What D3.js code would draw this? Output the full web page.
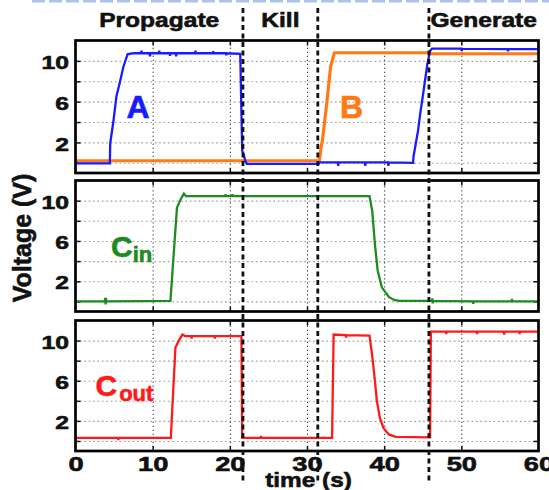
<!DOCTYPE html>
<html><head><meta charset="utf-8">
<script src="https://cdn.jsdelivr.net/npm/d3@7"></script>
<style>
html,body{margin:0;padding:0;background:#fff;}
svg{display:block;}
text{font-family:"Liberation Sans",Arial,Helvetica,sans-serif;font-weight:bold;}
</style></head><body>
<svg id="chart" width="549" height="490"></svg>
<script>
// ---- axis values ----
const timeTicks = [0, 10, 20, 30, 40, 50, 60];
const gridTimes = [10, 20, 30, 40, 50];
const voltTicks = [2, 6, 10];
const gridVolts = [0, 2, 4, 6, 8, 10];

// ---- operating phases (s) ----
const phaseBounds = [0, 21.7, 31.4, 45.8, 60];
const phaseNames = ["Propagate", "Kill", "", "Generate"];
const eventTimes = [21.7, 31.4, 45.8];

// ---- measured traces: [time (s), voltage (V)] ----
const inputA = [
  [0, -0.05], [4.45, -0.05], [4.5, 1.9], [4.9, 4.0], [5.3, 6.5], [5.75, 7.9], [6.2, 9.4],
  [6.75, 10.65], [7.5, 10.75], [8.5, 10.75], [8.55, 11.0], [8.6, 10.75], [9.6, 10.75], [9.65, 10.45],
  [9.7, 10.75], [10.8, 10.75], [10.85, 11.0], [10.9, 10.75], [12.2, 10.75], [12.25, 10.5], [12.3, 10.75],
  [13.0, 10.75], [13.05, 10.45], [13.1, 10.75], [15.5, 10.75], [15.55, 11.0], [15.6, 10.75],
  [17.8, 10.75], [17.85, 10.95], [17.9, 10.75], [19.5, 10.75], [19.55, 10.55], [19.6, 10.75],
  [21.35, 10.7], [21.5, 5.0], [21.6, 1.2], [21.8, 0.8], [22.0, 0.2], [22.2, -0.1], [31.5, -0.1],
  [31.6, 0.05], [34.0, 0.05], [34.05, -0.3], [34.1, 0.05], [37.5, 0.05], [37.55, -0.3], [37.6, 0.05],
  [40.5, 0.05], [40.55, -0.3], [40.6, 0.05], [43.75, 0.0], [43.8, 0.6], [44.1, 1.9], [44.4, 3.2],
  [44.65, 4.7], [45.0, 6.5], [45.3, 8.1], [45.6, 9.7], [45.95, 11.0], [46.2, 11.2], [50.0, 11.2],
  [50.05, 10.95], [50.1, 11.2], [56.0, 11.15], [56.05, 10.95], [56.1, 11.15], [60, 11.15]
];
const inputB = [
  [0, 0.2], [31.6, 0.2], [31.8, 1.4], [32.0, 2.2], [32.6, 6.1], [33.05, 9.4], [33.55, 10.8],
  [45.8, 10.8], [46.0, 10.7], [60, 10.7]
];
const carryIn = [
  [0, 0.0], [3.8, 0.0], [3.85, 0.35], [3.9, -0.3], [3.95, 0.35], [4.0, 0.0], [12.3, 0.05],
  [13.15, 9.3], [13.6, 10.1], [14.05, 10.7], [14.3, 10.45], [19.4, 10.45], [19.45, 10.65],
  [19.5, 10.45], [20.3, 10.45], [20.35, 10.65], [20.4, 10.45], [38.1, 10.45], [38.45, 9.0],
  [38.8, 5.7], [39.15, 3.1], [39.7, 1.4], [40.6, 0.45], [41.3, 0.15], [42.0, 0.05], [46.2, 0.05],
  [46.25, 0.3], [46.3, -0.2], [46.35, 0.05], [51.5, 0.0], [51.55, -0.25], [51.6, 0.0],
  [56.5, 0.0], [56.55, 0.25], [56.6, 0.0], [60, 0.0]
];
const carryOut = [
  [0, 0.3], [5.5, 0.3], [5.55, 0.1], [5.6, 0.3], [12.35, 0.3], [12.95, 9.3], [13.4, 10.0],
  [13.85, 10.6], [14.2, 10.45], [15.0, 10.45], [15.05, 10.2], [15.1, 10.45], [18.0, 10.45],
  [18.05, 10.2], [18.1, 10.45], [21.5, 10.45], [21.6, 0.3], [24.0, 0.3], [24.05, 0.5], [24.1, 0.3],
  [33.25, 0.3], [33.45, 10.6], [35.0, 10.55], [35.05, 10.3], [35.1, 10.55], [38.1, 10.5],
  [38.45, 8.5], [38.8, 6.0], [39.05, 4.0], [39.45, 2.3], [39.9, 1.3], [40.6, 0.65], [41.5, 0.4],
  [45.95, 0.35], [46.05, 10.9], [48.0, 10.9], [48.05, 10.65], [48.1, 10.9], [52.0, 10.9],
  [52.05, 10.65], [52.1, 10.9], [55.5, 10.9], [55.55, 10.6], [55.6, 10.9], [57.5, 10.9],
  [57.55, 10.65], [57.6, 10.9], [60, 10.9]
];

// ---- layout ----
const svg = d3.select("#chart");
const x = d3.scaleLinear().domain([0, 60]).range([75.5, 538.5]);
const left = x(0), right = x(60), width = right - left;
const ink = "#111";

const panels = [
  { top: 40.5, bottom: 173,
    traces: [{ data: inputB, color: "#ff7a14", w: 3.2 }, { data: inputA, color: "#1a1aff", w: 2.3 }],
    labels: [{ main: "A", x: 138, y: 118, color: "#1a1aff", anchor: "middle" },
             { main: "B", x: 351.5, y: 118, color: "#ff7a14", anchor: "middle" }] },
  { top: 180.5, bottom: 311.5,
    traces: [{ data: carryIn, color: "#1f8a1f", w: 2.3 }],
    labels: [{ main: "C", sub: "in", x: 111, y: 256.5, color: "#1f8a1f", anchor: "start" }] },
  { top: 320.5, bottom: 451,
    traces: [{ data: carryOut, color: "#ff1a1a", w: 2.3 }],
    labels: [{ main: "C", sub: "out", x: 95.5, y: 395.5, color: "#ff1a1a", anchor: "start", subDx: 2 }] }
];

// heavier glyph outline shared by all labels
const heavy = (sel, c) => sel.attr("stroke", c).attr("stroke-width", 0.6).attr("paint-order", "stroke");

// faint dashed rule along the top edge
svg.append("line")
  .attr("x1", 32).attr("x2", 549).attr("y1", 1.2).attr("y2", 1.2)
  .attr("stroke", "#a9c3ea").attr("stroke-width", 2.6).attr("stroke-dasharray", "13,4");

panels.forEach((p, i) => {
  const y = d3.scaleLinear().domain([-1, 12]).range([p.bottom, p.top]);
  const g = svg.append("g");
  const h = p.bottom - p.top;

  // horizontal grid (light dotted)
  g.append("g").attr("transform", `translate(${left},0)`)
    .call(d3.axisLeft(y).tickValues(gridVolts).tickSize(-width).tickFormat(""))
    .call(a => a.select(".domain").remove())
    .call(a => a.selectAll("line").attr("stroke", "#9a9a9a").attr("stroke-width", 1.1)
      .attr("stroke-dasharray", "1.6,2.8"));

  // vertical grid (darker dotted)
  g.append("g").attr("transform", `translate(0,${p.bottom})`)
    .call(d3.axisBottom(x).tickValues(gridTimes).tickSize(-h).tickFormat(""))
    .call(a => a.select(".domain").remove())
    .call(a => a.selectAll("line").attr("stroke", "#333").attr("stroke-width", 1)
      .attr("stroke-dasharray", "1.3,2.7"));

  // inward tick marks on all four sides
  const tk = 5;
  [[d3.axisLeft(y).tickValues(gridVolts), `translate(${left},0)`],
   [d3.axisRight(y).tickValues(gridVolts), `translate(${right},0)`],
   [d3.axisTop(x).tickValues(gridTimes), `translate(0,${p.top})`],
   [d3.axisBottom(x).tickValues(gridTimes), `translate(0,${p.bottom})`]].forEach(([ax, tr]) => {
    g.append("g").attr("transform", tr)
      .call(ax.tickSize(-tk).tickFormat(""))
      .call(a => a.select(".domain").remove())
      .call(a => a.selectAll("line").attr("stroke", ink).attr("stroke-width", 1.5));
  });

  // traces
  const clipId = "clip" + i;
  svg.append("clipPath").attr("id", clipId)
    .append("rect").attr("x", left).attr("y", p.top).attr("width", width).attr("height", h);
  const line = d3.line().x(d => x(d[0])).y(d => y(d[1]));
  const tg = g.append("g").attr("clip-path", `url(#${clipId})`);
  p.traces.forEach(t => {
    tg.append("path").datum(t.data).attr("d", line)
      .attr("fill", "none").attr("stroke", t.color).attr("stroke-width", t.w)
      .attr("stroke-linejoin", "miter");
  });

  // frame
  g.append("rect").attr("x", left).attr("y", p.top).attr("width", width).attr("height", h)
    .attr("fill", "none").attr("stroke", "#000").attr("stroke-width", 2.7);

  // voltage tick labels
  g.append("g").attr("transform", `translate(${left},0)`)
    .call(d3.axisLeft(y).tickValues(voltTicks).tickSize(0).tickPadding(5))
    .call(a => a.select(".domain").remove())
    .call(a => heavy(a.selectAll("text").attr("font-size", 19).attr("fill", ink)
      .attr("font-family", "Liberation Sans, Arial, sans-serif").attr("font-weight", "bold")
      .attr("dy", "0.4em").attr("transform", "scale(1.3,1)"), ink));

  // trace names
  p.labels.forEach(l => {
    const t = g.append("text").attr("x", l.x).attr("y", l.y).attr("fill", l.color)
      .attr("text-anchor", l.anchor).attr("font-size", l.sub ? 30 : 32).text(l.main);
    heavy(t, l.color);
    if (l.sub) {
      t.append("tspan").attr("font-size", 22).attr("dy", 5).attr("dx", l.subDx || 0).text(l.sub);
    }
  });

  // time tick labels on the last panel
  if (i === panels.length - 1) {
    g.append("g").attr("transform", `translate(0,${p.bottom})`)
      .call(d3.axisBottom(x).tickValues(timeTicks).tickSize(0).tickPadding(5.5))
      .call(a => a.select(".domain").remove())
      .call(a => heavy(a.selectAll("text").attr("font-size", 21).attr("fill", ink)
        .attr("font-family", "Liberation Sans, Arial, sans-serif").attr("font-weight", "bold")
        .attr("transform", "scale(1.3,1)"), ink));
  }
});

// phase names above the top panel
phaseNames.forEach((name, i) => {
  if (!name) return;
  const cx = (x(phaseBounds[i]) + x(phaseBounds[i + 1])) / 2;
  heavy(svg.append("text").attr("transform", `translate(${cx},26.7) scale(1.17,1)`)
    .attr("text-anchor", "middle").attr("font-size", 21).attr("fill", ink).text(name), ink);
});

// phase boundary markers spanning all panels
svg.append("g").selectAll("line").data(eventTimes).join("line")
  .attr("x1", d => x(d)).attr("x2", d => x(d)).attr("y1", 8).attr("y2", 484)
  .attr("stroke", ink).attr("stroke-width", 2.8).attr("stroke-dasharray", "5,3.5");

// axis titles
heavy(svg.append("text").attr("transform", "translate(31,238) rotate(-90)")
  .attr("text-anchor", "middle").attr("font-size", 25).attr("fill", ink).text("Voltage (V)"), ink);
heavy(svg.append("text").attr("transform", "translate(308.5,486.5) scale(1.16,1)")
  .attr("text-anchor", "middle").attr("font-size", 21).attr("fill", ink).text("time (s)"), ink);
</script>
</body></html>
